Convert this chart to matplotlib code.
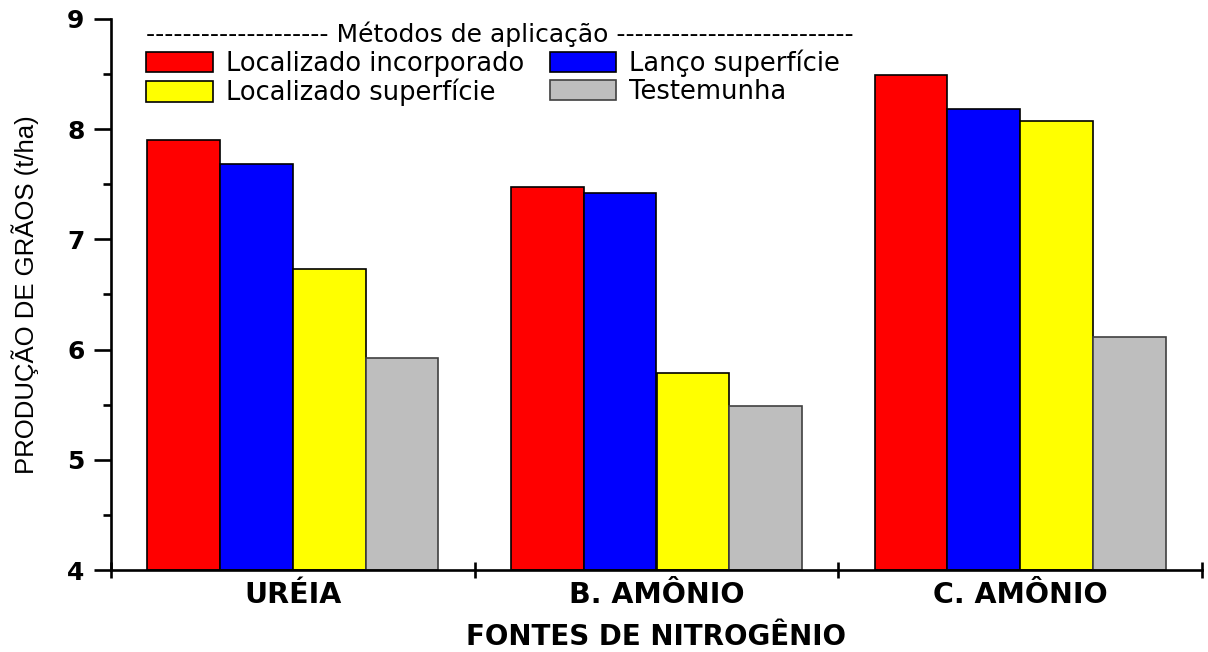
import numpy as np
from matplotlib import pyplot as plt
from matplotlib.ticker import MultipleLocator, FixedLocator

fontes = ['URÉIA', 'B. AMÔNIO', 'C. AMÔNIO']
metodos = ['Localizado incorporado', 'Localizado superfície',
           'Lanço superfície', 'Testemunha']
cores = ['#ff0000', '#ffff00', '#0000ff', '#bebebe']

# produção de grãos (t/ha) por método, na ordem das fontes
loc_incorporado = [7.90, 7.48, 8.49]
lanco_superficie = [7.68, 7.42, 8.18]
loc_superficie = [6.73, 5.79, 8.07]
testemunha = [5.92, 5.49, 6.11]

plt.rcParams['font.family'] = ['DejaVu Sans']

fig = plt.figure(figsize=(12.08, 6.52), dpi=100)
ax = fig.add_axes([111/1208, 1 - 570/652, (1202 - 111)/1208, (570 - 19)/652])

x = np.arange(len(fontes)) + 0.5
w = 0.2
series = [(loc_incorporado, 0, cores[0], metodos[0]),
          (lanco_superficie, 1, cores[2], metodos[2]),
          (loc_superficie, 2, cores[1], metodos[1]),
          (testemunha, 3, cores[3], metodos[3])]
handles = {}
for vals, k, c, lab in series:
    edge = '#404040' if k == 3 else 'black'
    b = ax.bar(x + (k - 1.5)*w, np.array(vals) - 4, bottom=4, width=w,
               color=c, edgecolor=edge, linewidth=1.2, label=lab)
    handles[lab] = b

ax.set_xlim(0, 3)
ax.set_ylim(4, 9)

for s in ['top', 'right']:
    ax.spines[s].set_visible(False)
for s in ['left', 'bottom']:
    ax.spines[s].set_linewidth(1.9)

ax.yaxis.set_major_locator(MultipleLocator(1))
ax.yaxis.set_minor_locator(MultipleLocator(0.5))
ax.tick_params(axis='y', which='major', direction='out', length=12,
               width=1.9, pad=7, labelsize=18)
ax.tick_params(axis='y', which='minor', direction='out', length=6, width=1.9)
for t in ax.get_yticklabels():
    t.set_fontweight('bold')

# tick marks on group boundaries, labels at group centers
ax.xaxis.set_major_locator(FixedLocator([0, 1, 2, 3]))
ax.xaxis.set_major_formatter(plt.NullFormatter())
ax.xaxis.set_minor_locator(FixedLocator(x))
ax.set_xticklabels(fontes, minor=True, fontsize=20.5, fontweight='bold')
ax.tick_params(axis='x', which='major', direction='inout', length=11, width=1.9)
ax.tick_params(axis='x', which='minor', length=0, pad=8)

ax.set_xlabel('FONTES DE NITROGÊNIO', fontsize=20, fontweight='bold',
              labelpad=10)
ax.set_ylabel('PRODUÇÃO DE GRÃOS (t/ha)', fontsize=18.5,
              family='Liberation Sans', labelpad=20)

ordem = [metodos[0], metodos[1], metodos[2], metodos[3]]
leg = ax.legend([handles[m] for m in ordem], ordem, ncol=2, frameon=False,
                title='-------------------- Métodos de aplicação --------------------------',
                title_fontsize=18, fontsize=18.5, loc='upper left',
                bbox_to_anchor=(0.032, 0.995), handlelength=2.6, handleheight=0.85,
                handletextpad=0.5, columnspacing=1.0, labelspacing=0.08,
                borderaxespad=0, borderpad=0)
leg._legend_box.align = 'left'

fig.savefig('out.png', dpi=100)
